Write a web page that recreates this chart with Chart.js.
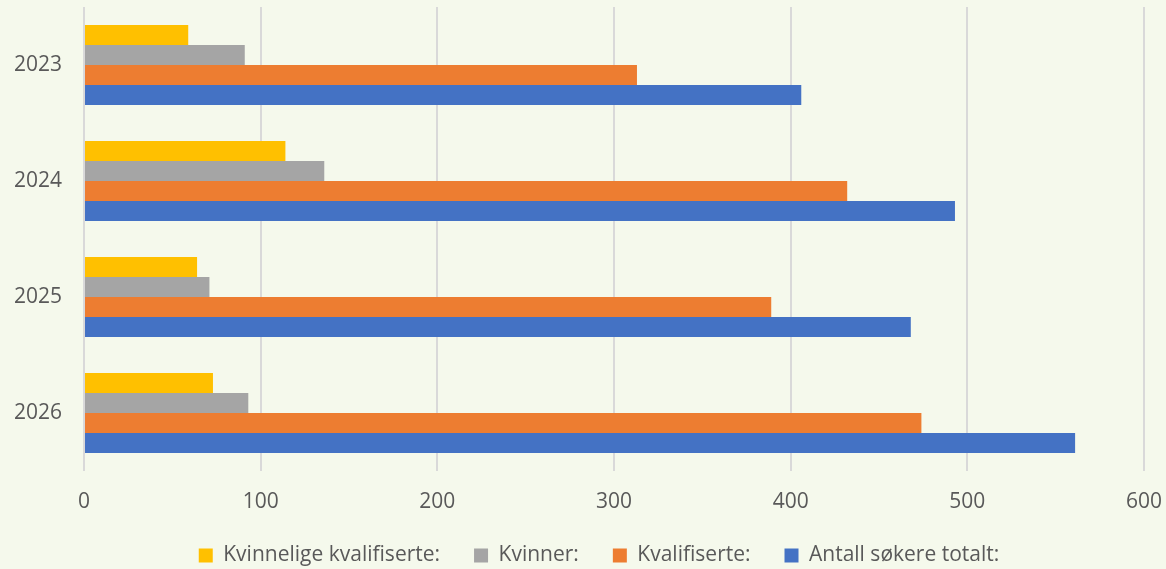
<!DOCTYPE html>
<html>
<head>
<meta charset="utf-8">
<script src="https://cdn.jsdelivr.net/npm/chart.js@4"></script>
<style>
  html, body { margin: 0; padding: 0; background: #F5F9EC; }
  #wrap { width: 1166px; height: 569px; position: relative; }
</style>
</head>
<body>
<div id="wrap"><canvas id="c"></canvas></div>
<script>
const categories = ['2023', '2024', '2025', '2026'];
const seriesNames = ['Kvinnelige kvalifiserte:', 'Kvinner:', 'Kvalifiserte:', 'Antall søkere totalt:'];
const kvinneligeKvalifiserte = [59, 114, 64, 73];
const kvinner = [91, 136, 71, 93];
const kvalifiserte = [313, 432, 389, 474];
const antallSokereTotalt = [406, 493, 468, 561];
const xTicks = [0, 100, 200, 300, 400, 500, 600];
const colors = ['#FFC000', '#A5A5A5', '#ED7D31', '#4472C4'];

const FONT = "'Open Sans', sans-serif";
const FSIZE = 21;
const TEXT = '#595959';

const bg = {
  id: 'bg',
  beforeDraw(chart) {
    const ctx = chart.ctx;
    ctx.save();
    ctx.fillStyle = '#F5F9EC';
    ctx.fillRect(0, 0, chart.width, chart.height);
    ctx.restore();
  }
};

// centre the legend under the plot rather than the whole canvas
const legendShift = {
  id: 'legendShift',
  afterLayout(chart) {
    const lg = chart.legend;
    if (lg) { lg.left += 27; lg.right += 27; }
  }
};

const values = [kvinneligeKvalifiserte, kvinner, kvalifiserte, antallSokereTotalt];

new Chart(document.getElementById('c'), {
  type: 'bar',
  data: {
    labels: categories,
    datasets: seriesNames.map((name, i) => ({
      label: name,
      data: values[i],
      backgroundColor: colors[i],
      borderWidth: 0,
      categoryPercentage: 0.69,
      barPercentage: 1.0
    }))
  },
  options: {
    indexAxis: 'y',
    responsive: true,
    maintainAspectRatio: false,
    animation: false,
    layout: { padding: { top: 7, right: 22, left: 0, bottom: -7 } },
    plugins: {
      legend: {
        position: 'bottom',
        labels: {
          font: { family: FONT, size: FSIZE },
          color: TEXT,
          boxWidth: 14,
          boxHeight: 14,
          padding: 34
        }
      },
      tooltip: { enabled: false }
    },
    scales: {
      x: {
        min: 0,
        max: 600,
        afterBuildTicks(scale) { scale.ticks = xTicks.map(v => ({ value: v })); },
        afterFit(scale) {
          scale.height = 40;
          scale.paddingLeft = 0;
          scale.paddingRight = 0;
        },
        grid: { color: '#D9D9D9', lineWidth: 2, drawTicks: false },
        border: { display: false },
        ticks: {
          font: { family: FONT, size: FSIZE },
          color: TEXT,
          padding: 18.5
        }
      },
      y: {
        grid: { display: false, drawTicks: false },
        border: { display: false },
        afterFit(scale) {
          scale.width = 84;
          scale.paddingTop = 0;
          scale.paddingBottom = 0;
        },
        ticks: {
          font: { family: FONT, size: FSIZE },
          color: TEXT,
          padding: 22
        }
      }
    }
  },
  plugins: [bg, legendShift]
});
</script>
</body>
</html>
